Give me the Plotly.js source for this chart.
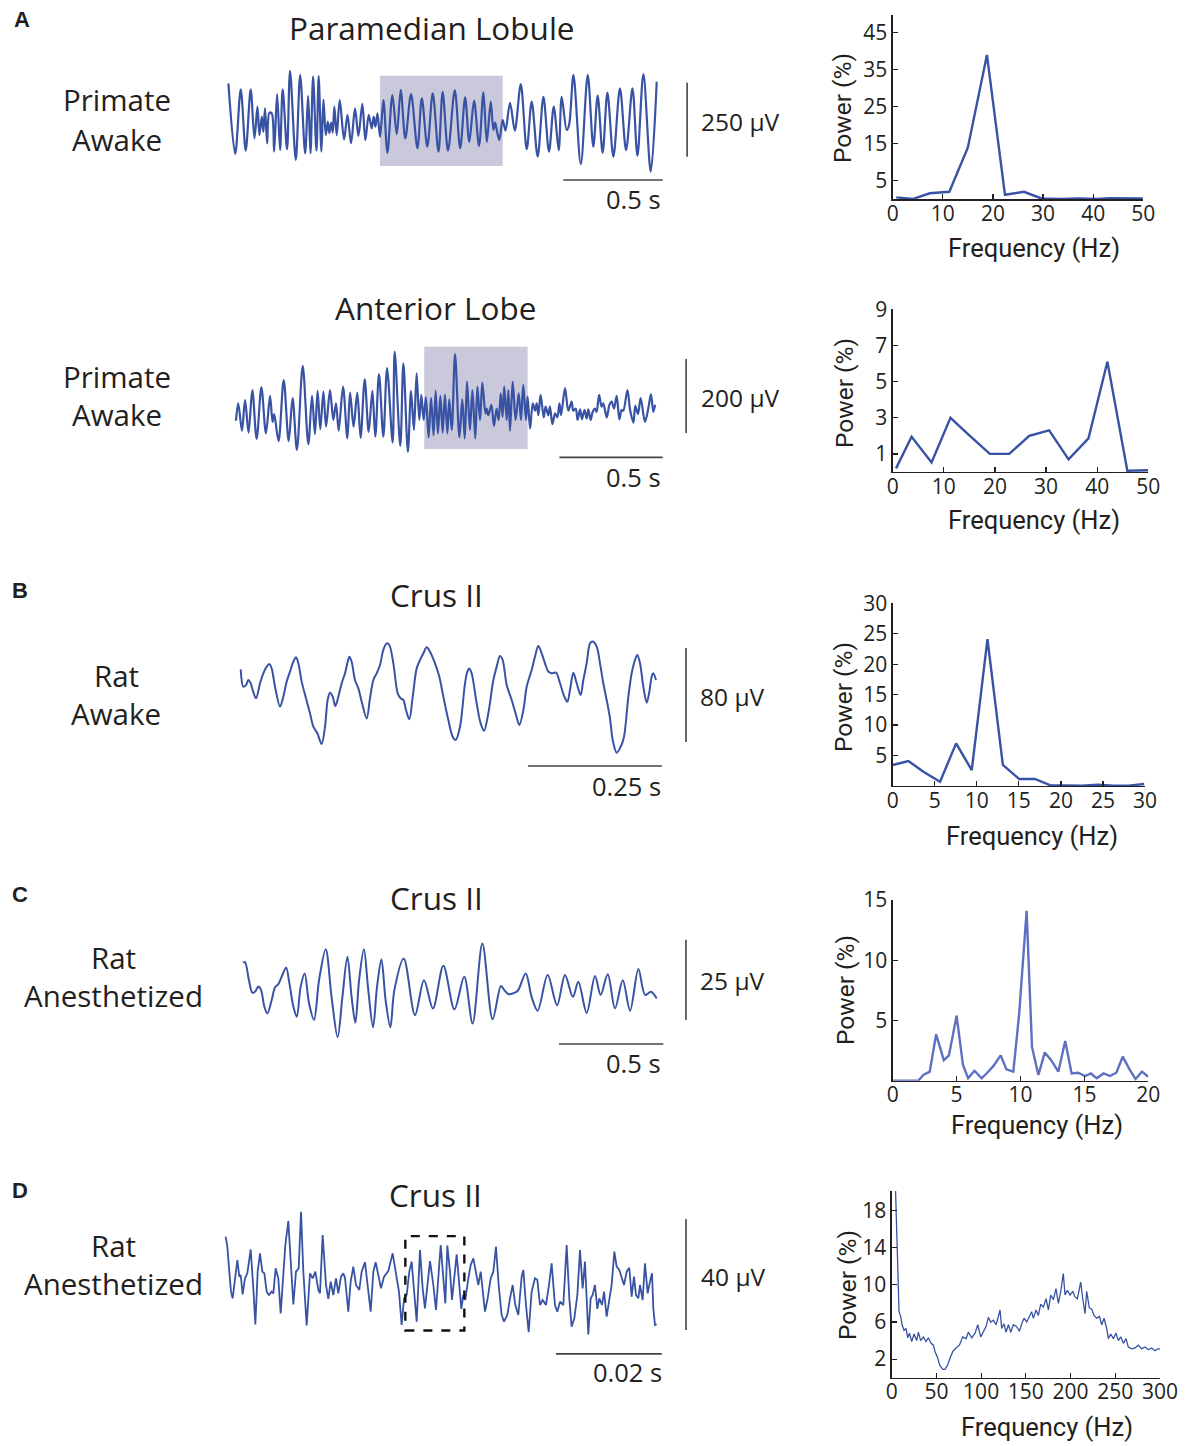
<!DOCTYPE html>
<html><head><meta charset="utf-8">
<script src="https://cdn.plot.ly/plotly-3.0.1.min.js"></script>
<style>html,body{margin:0;padding:0;background:#fff}#fig{width:1187px;height:1446px}</style>
</head><body><div id="fig"></div>
<script>
// ---------- DATA ----------
// A: Paramedian Lobule, primate awake (time ms, LFP µV)
const a1T = [0,34,62,87,112,131,146,156,168,176,184,195,206,218,230,245,260,273,295,310,339,361,386,401,413,426,443,454,468,478,490,500,508,517,525,533,545,560,582,599,617,637,654,674,689,706,721,731,740,750,763,780,800,825,847,867,890,919,951,973,1001,1028,1057,1078,1105,1139,1166,1191,1212,1236,1261,1283,1300,1320,1333,1342,1350,1363,1380,1394,1417,1441,1471,1501,1526,1556,1585,1613,1637,1662,1677,1702,1714,1736,1773,1808,1836,1858,1883,1907,1937,1970,2001,2033,2058,2088,2125,2155];
const a1V = [129,-109,109,-98,109,-56,51,-45,17,-34,45,-73,30,28,-101,93,-96,109,-93,172,-129,158,-107,87,-107,152,-98,154,-101,75,-45,0,-39,-3,-37,51,-45,73,-60,23,-73,45,-48,60,-62,23,-23,17,-17,28,-51,73,-105,90,-42,107,-56,93,-90,79,-84,96,-101,101,-98,107,-90,82,-68,71,-82,99,-68,68,-28,-3,-28,-62,6,-30,64,-30,127,-93,68,-118,84,-101,51,-96,84,-28,-11,158,-143,158,-84,88,-105,98,-118,113,-96,113,-115,161,-169,135];
// A: Anterior Lobe, primate awake
const a2T = [0,11,29,44,61,79,100,123,145,165,177,185,206,231,255,274,295,323,350,368,382,395,408,423,436,455,471,484,497,518,539,552,569,587,603,623,642,660,674,692,713,731,758,768,795,810,832,847,861,874,887,897,908,919,932,944,956,966,977,989,1000,1011,1023,1032,1044,1060,1081,1095,1107,1118,1132,1144,1158,1168,1181,1192,1207,1213,1221,1236,1248,1261,1271,1281,1290,1298,1310,1318,1326,1339,1353,1368,1379,1390,1403,1411,1423,1436,1447,1455,1463,1474,1489,1498,1511,1519,1531,1544,1555,1565,1573,1592,1608,1624,1632,1644,1653,1665,1674,1686,1697,1705,1716,1726,1737,1745,1757,1769,1777,1794,1807,1818,1829,1842,1855,1866,1874,1894,1907,1923,1932,1945,1958,1979,1995,2008,2019,2028];
const a2V = [-38,9,-65,18,-70,45,-87,52,-72,29,-41,-20,-93,72,-93,23,-117,110,-101,29,-74,43,-61,41,-54,45,-36,9,-65,54,-86,38,-54,38,-84,74,-68,43,-81,88,-81,104,-97,149,-106,117,-122,43,-63,90,-36,32,-36,25,-83,23,-77,43,-72,29,-70,32,-72,20,-63,142,-83,20,-86,68,-63,45,-86,54,-36,65,-18,-5,-23,5,-52,-5,-36,36,-27,54,-36,45,-65,68,-36,36,-36,59,-36,27,-59,9,-11,9,-23,32,-29,0,-23,0,-47,-18,-29,9,-23,50,-11,14,-11,-5,-36,-7,-34,-9,-32,-7,-36,-14,-5,-14,32,0,9,-29,5,14,-5,29,-34,-9,-11,45,-9,-43,2,-20,23,-41,-5,34,-14,5];
// B: Crus II, rat awake
const bT = [0,5.0,10.0,14.3,18.7,22.4,28.6,36.1,42.3,48.5,53.5,57.8,64.1,73.4,79.6,85.8,92.1,98.3,103.3,107.6,113.8,121.9,129.4,135.6,143.1,151.1,157.4,162.3,166.7,171.7,176.6,182.2,188.5,194.7,199.0,202.8,207.1,213.3,219.6,225.8,235.1,241.3,247.6,253.8,260.0,266.2,272.4,277.4,284.9,293.0,298.6,303.5,308.5,314.7,321.0,328.4,334.6,340.9,347.1,353.3,362.6,370.7,378.2,387.5,395.6,401.2,409.3,418.6,423.0,426.7,431.0,440.4,447.8,454.1,462.1,471.5,477.7,483.9,488.9,496.4,505.7,513.8,520.0,527.5,533.7,543.0,549.2,555.4,561.7,567.9,574.1,580.3,588.4,595.9,604.0,609.6,614.5,620.8,627.0,634.4,639.4,645.6,651.9,656.8,664.3,670.5,676.7,684.8,689.2,694.2,701.6,709.1,715.3,723.4,729.6,735.8,740.2,745.2,751.4,757.6,762.6,766.9,770.0,775.0];
const bV = [23.3,8.5,9.9,14.2,11.4,5.7,-1.4,11.4,19.9,25.6,27.8,24.1,8.5,-8.5,0,12.8,21.3,29.8,33.5,28.4,12.8,-1.4,-14.2,-25.6,-31.2,-40.3,-25.6,-2.8,3.4,0,-8.0,0,11.4,19.9,28.4,34.1,29.8,14.2,7.1,-4.3,-18.5,-1.4,14.2,19.9,27.0,39.8,45.4,44.0,28.4,2.8,-1.4,-2.8,-11.4,-19.3,0,24.1,31.2,36.9,42.0,38.3,28.4,17.0,0,-19.9,-34.1,-36.9,-25.6,11.4,21.3,24.1,19.9,-5.7,-22.7,-29.0,-14.2,14.2,25.6,34.6,31.2,9.9,-2.8,-15.6,-24.1,-11.4,8.5,22.7,34.1,43.2,36.9,28.4,21.3,19.9,20.4,11.4,0,-4.3,5.7,20.4,11.4,1.4,14.2,28.4,45.4,46.9,42.6,28.4,11.4,-7.1,-18.5,-36.9,-47.7,-42.6,-34.1,0,19.9,31.2,35.5,28.4,8.5,-5.1,4.3,17.0,19.9,14.2];
// C: Crus II, rat anesthetized
const cT = [0,8,27,43,56,72,85,101,115,136,152,168,184,205,221,240,256,275,294,315,339,363,395,423,452,475,499,519,537,555,578,599,622,641,662,682,705,724,769,823,866,909,959,1012,1059,1099,1146,1195,1235,1251,1270,1302,1318,1354,1382,1411,1459,1504,1542,1580,1606,1646,1686,1713,1747,1782,1819,1854,1894,1926,1954,1982];
const cV = [9.0,9.3,3.6,-0.3,0,1.6,0.5,-4.7,-6.8,-2.6,1.4,2.4,4.7,7.6,2.6,-4.7,-7.8,1.6,5.7,-3.6,-8.8,3.6,13.3,-1.6,-14.2,-1.6,10.9,-1.6,-9.7,3.6,13.3,0.5,-11.1,1.6,10.1,-2.6,-11.1,0.5,10.4,-7.3,3.6,-5.2,8.1,-5.5,4.7,-9.9,15.1,-8.6,1.8,0.5,-0.7,-0.3,0.5,5.7,-1.6,-5.9,5.2,-4.2,5.2,-1.6,3.1,-6.6,4.9,-1.0,5.5,-5.2,3.6,-5.9,7.1,-1.0,0,-2.1];
// D: Crus II, rat anesthetized (fast)
const dT = [0,0.32,0.69,1.01,1.32,1.76,2.21,2.58,2.84,3.21,3.65,4.10,4.73,5.23,5.61,6.05,6.49,6.93,7.31,7.75,8.19,8.69,9.01,9.45,9.95,10.40,10.77,11.28,11.84,12.35,12.79,13.29,13.80,14.24,14.68,15.31,15.94,16.44,16.95,17.51,17.83,18.33,18.96,19.40,19.85,20.35,20.85,21.29,21.80,22.24,22.55,23.18,23.63,24.13,24.63,25.26,25.70,26.33,26.96,27.41,27.91,28.35,28.85,29.36,29.93,30.74,31.56,32.19,32.76,33.26,33.71,34.21,34.71,35.15,35.66,36.10,36.73,37.23,37.67,38.62,39.25,39.75,40.64,41.14,41.52,41.90,42.40,42.78,43.66,44.16,44.54,44.92,45.30,45.86,46.31,46.81,47.31,47.75,48.20,49.01,49.52,50.09,50.59,51.09,51.60,52.16,52.61,53.24,53.74,54.24,54.75,55.31,55.94,56.26,56.76,57.27,57.83,58.46,58.91,59.41,59.91,60.54,61.11,61.61,62.24,62.69,63.19,63.82,64.45,64.95,65.39,65.90,66.47,66.97,67.47,67.91,68.54,68.99,69.36,69.80,70.25,70.62,71.13,71.51,72.01,72.51,72.95,73.46,73.90,74.40,74.84,75.29,75.79,76.29,76.73,77.18,77.55,77.99,78.31,78.81,79.25,79.76,80.20,80.58,80.83,81.14,81.46];
const dV = [17.4,13.8,4.8,-2.4,-4.8,1.2,9.0,3.0,3.6,-3.4,2.4,4.2,12.8,-1.2,-14.2,4.8,11.4,4.8,4.2,-2.4,-3.6,-2.4,-3.0,6.0,2.4,-10.2,-1.2,14.4,23.0,7.2,-7.0,4.8,6.0,26.4,4.8,-14.6,4.2,2.4,4.8,-1.8,-3.0,18.0,0,-5.0,1.2,-3.6,2.4,-3.0,3.0,4.2,2.6,-9.6,1.2,6.6,0,-1.8,4.8,8.2,-1.2,-9.6,4.8,8.2,3.6,-1.2,3.0,5.0,11.4,4.8,-2.4,-14.4,-4.8,-3.6,4.8,8.4,-2.4,-13.2,12.6,-1.2,-8.4,8.6,0,-9.0,14.4,2.4,-6.6,14.2,4.8,-5.4,11.0,0,-8.6,-3.6,-5.4,2.4,7.2,9.6,3.6,0,4.8,-9.6,-4.8,2.4,4.8,13.8,0,-10.8,-13.2,-10.8,-4.8,0,-7.2,-10.8,3.0,5.4,-7.2,-17.0,-2.4,2.4,1.8,-7.2,-5.4,-7.2,0,7.8,-7.2,-9.6,-6.0,-7.2,14.4,-4.8,-15.0,-12.0,-3.6,12.6,-1.2,8.4,-17.8,-4.8,-3.6,0,-8.6,-4.8,-7.2,-2.4,-11.4,-5.4,0,12.0,6.6,5.4,2.4,0,4.8,6.2,-4.2,3.0,-3.6,-4.8,0,-5.4,7.8,-3.0,1.2,4.2,-8.4,-14.4,-14.2];

// Power spectra (frequency Hz, power %)
const s1F = [0.7,4.1,7.4,11.3,15.0,18.8,22.4,26.2,29.7,33.5,37.0,40.6,43.4,46.7,49.9];
const s1P = [0.5,0.1,1.6,2.0,14,39,1.2,2.0,0.2,0.05,0.2,0.1,0.3,0.3,0.2];
const s2F = [0.65,3.7,7.6,11.3,15.1,19.0,22.8,26.7,30.6,34.4,38.3,42.0,45.9,50];
const s2P = [0.2,1.95,0.53,3.0,2.0,1.0,1.0,2.0,2.3,0.7,1.86,6.1,0.07,0.1];
const s3F = [0,1.87,3.65,5.63,7.54,9.4,11.27,13.1,15.04,16.9,18.7,20.6,22.5,24.4,26.3,28.1,29.9];
const s3P = [3.45,4.1,2.35,0.7,7.0,2.6,24.1,3.45,1.15,1.15,0.15,0.1,0.05,0.2,0.05,0.05,0.33];
const s4F = [0,2.0,2.4,2.9,3.4,4.0,4.4,5.0,5.5,5.9,6.4,6.96,7.4,7.9,8.45,8.9,9.44,9.9,10.48,10.9,11.4,11.9,12.4,12.96,13.5,14.0,14.5,15.05,15.5,15.96,16.5,17.0,17.5,18.0,18.5,19.0,19.5,20.0];
const s4P = [0,0,0.47,0.75,3.85,1.7,2.1,5.4,1.3,0.2,0.83,0.2,0.66,1.25,2.1,0.94,0.75,5.6,14.1,2.8,0.47,2.35,1.7,0.75,3.3,0.6,0.66,0.39,0.6,0.2,0.6,0.39,0.66,2.0,1.0,0.14,0.75,0.33];
const s5F = [4.1,5.2,6.0,7.1,8.2,10.1,11.6,13.8,16.0,17.9,19.8,22.4,25.0,28.0,29.8,32.4,35.4,38.4,41.0,44.0,46.6,48.5,51.1,54.0,57.0,59.6,62.2,65.2,68.2,71.9,75.7,79.4,83.1,85.7,89.5,93.2,96.2,99.5,102.5,105.5,108.1,110.7,113.7,116.7,119.3,121.1,123.0,125.6,127.8,130.5,133.1,136.0,139.8,142.8,145.4,148.0,151.0,153.9,156.5,158.4,161.4,164.0,166.6,169.6,172.6,175.2,177.8,180.8,183.7,186.4,189.0,191.9,193.8,196.4,199.4,202.4,205.0,207.6,209.8,211.3,213.6,216.2,218.0,221.0,223.6,226.2,229.2,232.2,234.8,237.4,240.4,242.3,244.9,247.9,250.8,253.4,256.1,259.1,262.0,264.6,268.4,272.1,275.8,279.5,283.3,287.0,290.7,294.4,297.4,300.0];
const s5P = [20.8,16.5,15.4,8.5,7.1,6.6,5.7,5.1,5.3,4.3,4.8,3.9,4.7,4.0,4.9,4.0,4.4,3.9,4.3,3.7,3.5,2.8,2.2,1.3,0.9,0.9,1.3,2.1,2.8,3.2,3.5,4.4,4.2,4.9,4.3,4.8,5.7,4.4,5.0,5.5,6.5,6.0,6.2,5.7,6.6,7.3,5.3,5.8,4.9,5.7,4.9,5.7,5.5,5.0,5.8,6.4,6.0,6.6,7.1,6.4,7.3,6.7,7.9,7.6,8.5,7.3,8.9,8.4,9.6,8.0,9.3,11.2,8.9,9.4,8.9,9.3,8.7,8.5,9.8,10.3,8.5,6.9,9.3,7.5,7.4,6.7,6.4,6.6,5.7,6.4,5.3,4.2,4.7,4.2,4.8,4.0,4.4,3.7,4.2,3.3,3.1,3.2,3.5,3.1,3.3,3.0,3.2,2.9,3.1,3.1];

// Scale bars (ms, µV) and labels
const scaleT = [500, 500, 250, 500, 20];
const scaleV = [250, 200, 80, 25, 40];
const scaleTLabel = ["0.5 s", "0.5 s", "0.25 s", "0.5 s", "0.02 s"];
const scaleVLabel = ["250 µV", "200 µV", "80 µV", "25 µV", "40 µV"];
const regionTitles = ["Paramedian Lobule", "Anterior Lobe", "Crus II", "Crus II", "Crus II"];
const conditionLabels = [["Primate","Awake"],["Primate","Awake"],["Rat","Awake"],["Rat","Anesthetized"],["Rat","Anesthetized"]];
const panelLetters = ["A","B","C","D"];

// ---------- LAYOUT HELPERS ----------
const W = 1187, H = 1446;
const TXT = '#231f20', BLUE = '#3953a4', BLUE_LIGHT = '#5f70c2';
const FONT = '"Open Sans", "Noto Sans", sans-serif';
const NARROW = 'Roboto, "Open Sans", sans-serif';
const dx = (a,b) => [a/W, b/W];
const dy = (a,b) => [1-b/H, 1-a/H];
const px = x => x/W, py = y => 1-y/H;

// trace panels: pixel box + ranges
const tracePanels = [
  {box:[200,800,40,220],   xr:[-143,2876],  yr:[-332,276], t:a1T, v:a1V, shape:'spline', w:2.2,
   hbar:{t0:1685,y:-197}, vbar:{t:2308,y0:-118}, box2:{x0:763,x1:1380,y0:-150,y1:155}},
  {box:[200,800,320,500],  xr:[-174,2729],  yr:[-252,234], t:a2T, v:a2V, shape:'spline', w:2.2,
   hbar:{t0:1565,y:-137}, vbar:{t:2178,y0:-71}, box2:{x0:911,x1:1411,y0:-114,y1:162}},
  {box:[200,800,620,800],  xr:[-75.9,1043.7], yr:[-88,65.3], t:bT, v:bV, shape:'spline', w:2.0,
   hbar:{t0:536,y:-59}, vbar:{t:831,y0:-38.6}},
  {box:[200,800,920,1100], xr:[-207.7,2668.7], yr:[-33.8,22.4], t:cT, v:cV, shape:'spline', w:2.0,
   hbar:{t0:1513,y:-16.3}, vbar:{t:2122,y0:-8.8}},
  {box:[200,800,1200,1380], xr:[-4.85,108.55], yr:[-34.2,30.6], t:dT, v:dV, shape:'linear', w:1.8,
   hbar:{t0:62.43,y:-24.8}, vbar:{t:87.0,y0:-16.2}, dash:{x0:33.96,x1:45.11,y0:-16.4,y1:17.6}}
];
const specPanels = [
  {box:[892.7,1143.3,15,199.2], xr:[0,50], yr:[0,49.8], xt:[0,10,20,30,40,50], yt:[5,15,25,35,45], f:s1F, p:s1P, c:BLUE, w:2.4},
  {box:[892.7,1148.3,309.3,472], xr:[0,50], yr:[0,9], xt:[0,10,20,30,40,50], yt:[1,3,5,7,9], f:s2F, p:s2P, c:BLUE, w:2.4},
  {box:[892.7,1145,603.3,786], xr:[0,30], yr:[0,30], xt:[0,5,10,15,20,25,30], yt:[5,10,15,20,25,30], f:s3F, p:s3P, c:BLUE, w:2.4},
  {box:[892.7,1148.3,900,1080.7], xr:[0,20], yr:[0,15], xt:[0,5,10,15,20], yt:[5,10,15], f:s4F, p:s4P, c:BLUE_LIGHT, w:2.4},
  {box:[891.7,1160,1191,1377.7], xr:[0,300], yr:[0,20.1], xt:[0,50,100,150,200,250,300], yt:[2,6,10,14,18], f:s5F, p:s5P, c:BLUE, w:1.3}
];

const data = [], shapes = [], annotations = [];
const layout = {width:W, height:H, margin:{l:0,r:0,t:0,b:0}, paper_bgcolor:'#fff', plot_bgcolor:'rgba(0,0,0,0)', showlegend:false};

const hidden = (dom, rng) => ({domain:dom, range:rng, visible:false, fixedrange:true});
tracePanels.forEach((P,i) => {
  const n = i+1, xa = n===1?'x':'x'+n, ya = n===1?'y':'y'+n;
  layout[n===1?'xaxis':'xaxis'+n] = Object.assign(hidden(dx(P.box[0],P.box[1]), P.xr), {anchor:ya});
  layout[n===1?'yaxis':'yaxis'+n] = Object.assign(hidden(dy(P.box[2],P.box[3]), P.yr), {anchor:xa});
  data.push({x:P.t, y:P.v, xaxis:xa, yaxis:ya, type:'scatter', mode:'lines',
    line:{color:BLUE, width:P.w, shape:P.shape, smoothing:P.shape==='spline'?0.9:undefined}, hoverinfo:'skip'});
  if (P.box2) shapes.push({type:'rect', xref:xa, yref:ya, x0:P.box2.x0, x1:P.box2.x1, y0:P.box2.y0, y1:P.box2.y1,
    fillcolor:'#c9c9db', line:{width:0}, layer:'below'});
  if (P.dash) shapes.push({type:'rect', xref:xa, yref:ya, x0:P.dash.x0, x1:P.dash.x1, y0:P.dash.y0, y1:P.dash.y1,
    line:{color:'#111', width:2.4, dash:'dash'}, layer:'above'});
  // scale bars in data units
  shapes.push({type:'line', xref:xa, yref:ya, x0:P.hbar.t0, x1:P.hbar.t0+scaleT[i], y0:P.hbar.y, y1:P.hbar.y, line:{color:'#444', width:1.6}});
  shapes.push({type:'line', xref:xa, yref:ya, x0:P.vbar.t, x1:P.vbar.t, y0:P.vbar.y0, y1:P.vbar.y0+scaleV[i], line:{color:'#444', width:1.6}});
});
specPanels.forEach((S,i) => {
  const n = i+6, xa='x'+n, ya='y'+n;
  const common = {showline:true, linecolor:TXT, linewidth:1.3, ticks:'inside', ticklen:5, tickwidth:1.2, tickcolor:TXT,
    showgrid:false, zeroline:false, fixedrange:true, tickfont:{family:FONT, size:21, color:TXT}};
  layout['xaxis'+n] = Object.assign({}, common, {domain:dx(S.box[0],S.box[1]), range:S.xr, tickvals:S.xt, anchor:ya, ticklabelstandoff:-5});
  layout['yaxis'+n] = Object.assign({}, common, {domain:dy(S.box[2],S.box[3]), range:S.yr, tickvals:S.yt, anchor:xa, ticklabelstandoff:0});
  data.push({x:S.f, y:S.p, xaxis:xa, yaxis:ya, type:'scatter', mode:'lines', line:{color:S.c, width:S.w}, hoverinfo:'skip', cliponaxis:true});
});

function ann(text, x, y, size, o) {
  annotations.push(Object.assign({text, xref:'paper', yref:'paper', x:px(x), y:py(y), showarrow:false,
    xanchor:'center', yanchor:'middle', font:{family:FONT, size, color:TXT}}, o||{}));
}
// panel letters
[[22,20],[20,590],[20,894],[20,1190]].forEach((p,i)=>ann('<b>'+panelLetters[i]+'</b>', p[0], p[1], 22,
  {font:{family:'"Liberation Sans", Arial, sans-serif', size:22, color:TXT}}));
// region titles
[[432,27],[435,307],[436,594],[436,897],[435,1194]].forEach((p,i)=>ann(regionTitles[i], p[0], p[1], 31.5));
// condition labels
[[117,100,139],[117,377,415],[116,675,713],[113,957,995],[113,1245,1283]].forEach((p,i)=>{
  ann(conditionLabels[i][0], p[0], p[1], 29.5); ann(conditionLabels[i][1], p[0], p[2], 29.5);
});
// scale labels
[[699,121],[699,397],[698,696],[698,980],[699,1276]].forEach((p,i)=>ann(scaleVLabel[i], p[0], p[1], 24.5, {xanchor:'left'}));
[[663,199],[663,477],[663,786],[663,1063],[664,1372]].forEach((p,i)=>ann(scaleTLabel[i], p[0], p[1], 25.5, {xanchor:'right'}));
// spectrum axis titles
[[843,108,1034,248],[845,393,1034,520],[843,697,1032,836],[845,990,1037,1125],[847,1285,1047,1427]].forEach(p=>{
  ann('Power (%)', p[0], p[1], 24, {textangle:-90, font:{family:NARROW, size:24.5, color:TXT}});
  ann('Frequency (Hz)', p[2], p[3], 25, {font:{family:NARROW, size:25.5, color:TXT}});
});

layout.shapes = shapes; layout.annotations = annotations;
Plotly.newPlot('fig', data, layout, {displayModeBar:false, staticPlot:true});
</script></body></html>
